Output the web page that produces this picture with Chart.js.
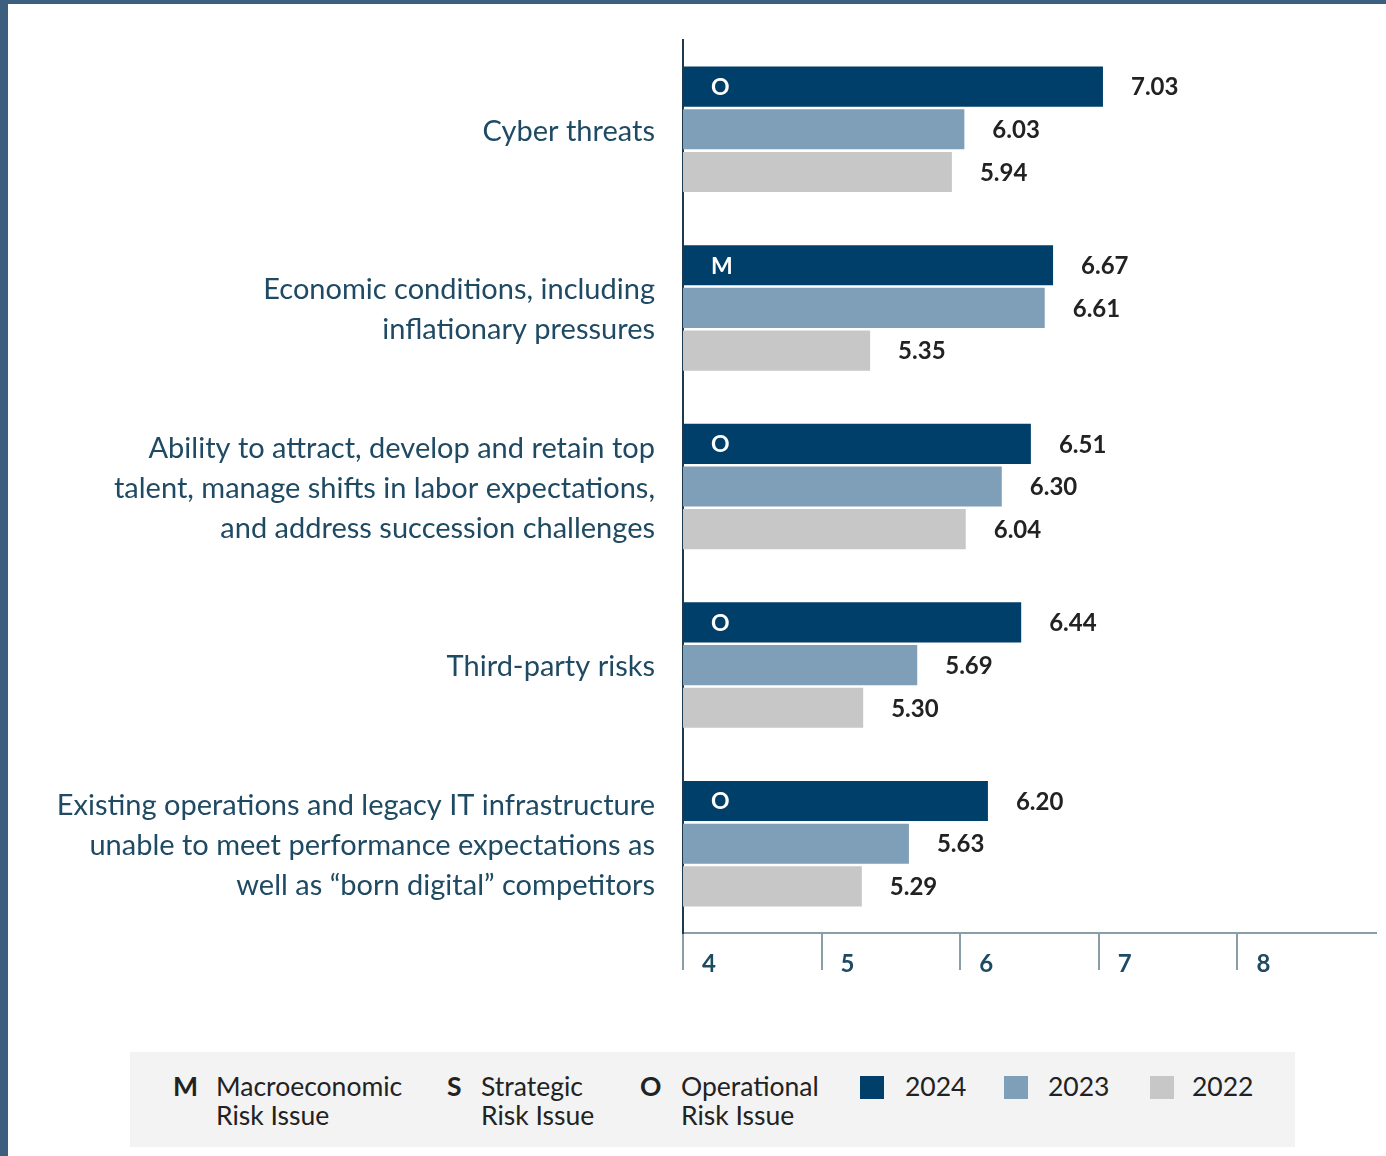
<!DOCTYPE html>
<html>
<head>
<meta charset="utf-8">
<script src="https://cdn.jsdelivr.net/npm/chart.js@4.4.1/dist/chart.umd.min.js"></script>
<style>
  html,body{margin:0;padding:0;}
  body{width:1386px;height:1156px;background:#3c5f7f;position:relative;overflow:hidden;font-family:Lato,"Noto Sans",sans-serif;}
  #page{position:absolute;left:8px;top:4px;right:0;bottom:0;background:#fff;}
  #c{position:absolute;left:0;top:0;}
  #legend{position:absolute;left:122px;top:1048px;width:1165px;height:95px;background:#f3f3f3;color:#222;font-size:26.5px;}
  #legend .it{position:absolute;top:20px;line-height:29px;}
  #legend .k{position:absolute;top:20px;line-height:29px;font-weight:bold;}
  #legend .sw{position:absolute;top:24px;width:24px;height:23px;}
</style>
</head>
<body>
<div id="page">
  <canvas id="c" width="1378" height="980"></canvas>
  <div id="legend">
    <span class="k" style="left:43px">M</span><span class="it" style="left:86px">Macroeconomic<br>Risk Issue</span>
    <span class="k" style="left:317px">S</span><span class="it" style="left:351px">Strategic<br>Risk Issue</span>
    <span class="k" style="left:510px">O</span><span class="it" style="left:551px">Operational<br>Risk Issue</span>
    <span class="sw" style="left:730px;background:#003f69"></span><span class="it" style="left:775px">2024</span>
    <span class="sw" style="left:874px;background:#7f9fb8"></span><span class="it" style="left:918px">2023</span>
    <span class="sw" style="left:1020px;background:#c7c7c7"></span><span class="it" style="left:1062px">2022</span>
  </div>
</div>
<script>
// ── data ─────────────────────────────────────────────
const categories = [
  ['Cyber threats'],
  ['Economic conditions, including','inflationary pressures'],
  ['Ability to attract, develop and retain top','talent, manage shifts in labor expectations,','and address succession challenges'],
  ['Third-party risks'],
  ['Existing operations and legacy IT infrastructure','unable to meet performance expectations as','well as “born digital” competitors']
];
const riskType = ['O','M','O','O','O'];
const years    = ['2024','2023','2022'];
const v2024 = [7.03, 6.67, 6.51, 6.44, 6.20];
const v2023 = [6.03, 6.61, 6.30, 5.69, 5.63];
const v2022 = [5.94, 5.35, 6.04, 5.30, 5.29];
const xTicks = [4, 5, 6, 7, 8];

const barColors = ['#003f69','#7f9fb8','#c7c7c7'];
const FONT = 'Lato, "Noto Sans", sans-serif';

// value labels + risk markers inside 2024 bars
const labelPlugin = {
  id:'labels',
  afterDatasetsDraw(chart){
    const ctx = chart.ctx;
    const left = chart.chartArea.left;
    ctx.save();
    ctx.textBaseline = 'middle';
    ctx.textAlign = 'left';
    chart.data.datasets.forEach((ds,di)=>{
      const meta = chart.getDatasetMeta(di);
      meta.data.forEach((el,i)=>{
        ctx.font = 'bold 24px ' + FONT;
        ctx.fillStyle = '#222';
        ctx.fillText(ds.data[i].toFixed(2), el.x + 28, el.y + 1);
        if(di===0){
          ctx.font = 'bold 23px ' + FONT;
          ctx.fillStyle = '#fff';
          ctx.fillText(riskType[i], left + 28, el.y + 1);
        }
      });
    });
    ctx.restore();
  }
};

new Chart(document.getElementById('c'), {
  type:'bar',
  data:{
    labels:categories,
    datasets:[v2024,v2023,v2022].map((d,i)=>({
      label:years[i], data:d, backgroundColor:barColors[i], borderWidth:0,
      categoryPercentage:0.717, barPercentage:0.94
    }))
  },
  options:{
    indexAxis:'y',
    responsive:false, animation:false, devicePixelRatio:1,
    layout:{padding:{top:36,right:10,left:0,bottom:0}},
    plugins:{legend:{display:false}, tooltip:{enabled:false}},
    scales:{
      x:{
        min:4, max:9,
        afterBuildTicks:s=>{ s.ticks = xTicks.map(v=>({value:v})); },
        afterFit:s=>{ s.height = 51; s.paddingLeft = 0; s.paddingRight = 0; },
        grid:{drawOnChartArea:false, drawTicks:true, tickLength:37, color:'#8a9ea8', lineWidth:2},
        border:{color:'#8a9ea8', width:2},
        ticks:{align:'start', labelOffset:19, padding:-20, color:'#1f4a63',
               font:{family:FONT, size:24, weight:'bold'}}
      },
      y:{
        afterFit:s=>{ s.width = 675; s.paddingTop = 0; s.paddingBottom = 0; },
        grid:{display:false, drawTicks:false},
        border:{color:'#1e3a50', width:2},
        ticks:{padding:28, labelOffset:2, color:'#1f4a63', font:{family:FONT, size:29, lineHeight:1.38}}
      }
    }
  },
  plugins:[labelPlugin]
});
</script>
</body>
</html>
